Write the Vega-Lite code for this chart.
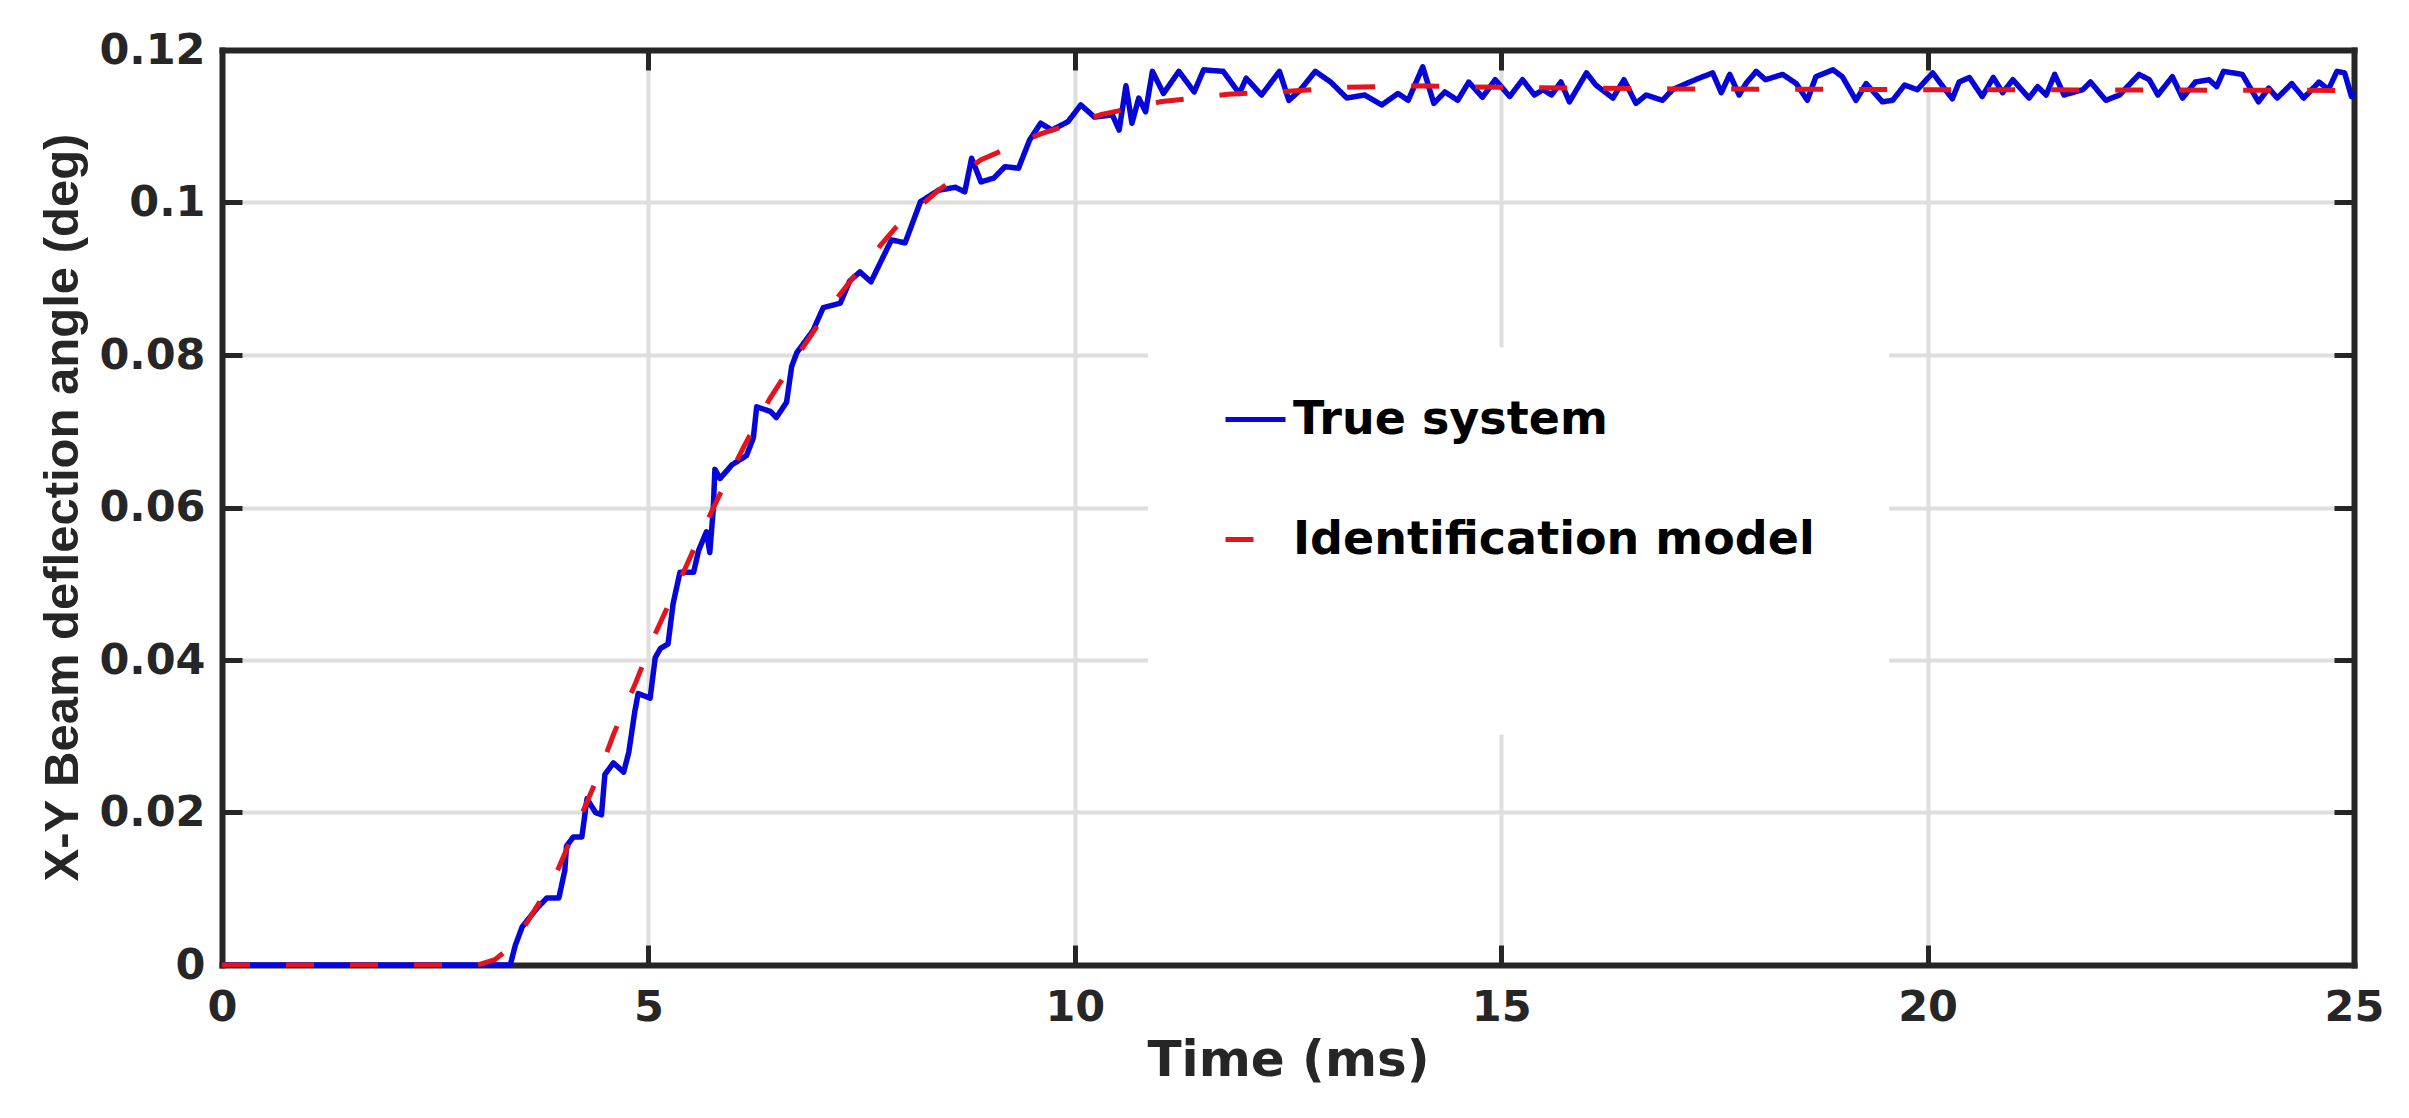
{
  "$schema": "https://vega.github.io/schema/vega-lite/v6.json",
  "width": 2132,
  "height": 915,
  "autosize": {"type": "none"},
  "padding": {"left": 222, "top": 50, "right": 55, "bottom": 153},
  "background": "white",
  "config": {
    "view": {"stroke": null},
    "axis": {
      "domainColor": "#262626",
      "domainWidth": 6,
      "domainCap": "square",
      "tickColor": "#262626",
      "tickWidth": 5,
      "tickSize": -20,
      "gridColor": "#dedede",
      "gridWidth": 4,
      "labelFont": "DejaVu Sans",
      "labelFontWeight": "bold",
      "labelFontSize": 43,
      "labelColor": "#262626",
      "labelFlush": false,
      "titleColor": "#262626",
      "titleFontWeight": "bold"
    },
    "legend": {
      "orient": "none",
      "legendX": 1001,
      "legendY": 337,
      "symbolType": "stroke",
      "symbolSize": 3600,
      "symbolStrokeWidth": 5,
      "labelFont": "DejaVu Sans",
      "labelFontWeight": "bold",
      "labelFontSize": 46,
      "labelColor": "black",
      "labelOffset": 5,
      "labelLimit": 0,
      "rowPadding": 64,
      "padding": 0
    }
  },
  "data": {
    "values": [
      {"s": "True system", "t": 0, "v": 0},
      {"s": "True system", "t": 3.38, "v": 0},
      {"s": "True system", "t": 3.44, "v": 0.0026},
      {"s": "True system", "t": 3.52, "v": 0.005},
      {"s": "True system", "t": 3.69, "v": 0.0074},
      {"s": "True system", "t": 3.81, "v": 0.0088},
      {"s": "True system", "t": 3.95, "v": 0.0088},
      {"s": "True system", "t": 4.02, "v": 0.0124},
      {"s": "True system", "t": 4.04, "v": 0.0156},
      {"s": "True system", "t": 4.12, "v": 0.0168},
      {"s": "True system", "t": 4.22, "v": 0.0168},
      {"s": "True system", "t": 4.28, "v": 0.0218},
      {"s": "True system", "t": 4.38, "v": 0.02},
      {"s": "True system", "t": 4.45, "v": 0.0197},
      {"s": "True system", "t": 4.49, "v": 0.025},
      {"s": "True system", "t": 4.59, "v": 0.0265},
      {"s": "True system", "t": 4.71, "v": 0.0253},
      {"s": "True system", "t": 4.77, "v": 0.0279},
      {"s": "True system", "t": 4.84, "v": 0.0332},
      {"s": "True system", "t": 4.88, "v": 0.0356},
      {"s": "True system", "t": 5.02, "v": 0.035},
      {"s": "True system", "t": 5.08, "v": 0.0403},
      {"s": "True system", "t": 5.14, "v": 0.0415},
      {"s": "True system", "t": 5.23, "v": 0.0421},
      {"s": "True system", "t": 5.29, "v": 0.0474},
      {"s": "True system", "t": 5.37, "v": 0.0515},
      {"s": "True system", "t": 5.53, "v": 0.0515},
      {"s": "True system", "t": 5.59, "v": 0.0544},
      {"s": "True system", "t": 5.68, "v": 0.0568},
      {"s": "True system", "t": 5.72, "v": 0.0541},
      {"s": "True system", "t": 5.76, "v": 0.0597},
      {"s": "True system", "t": 5.78, "v": 0.065},
      {"s": "True system", "t": 5.84, "v": 0.0638},
      {"s": "True system", "t": 5.98, "v": 0.0656},
      {"s": "True system", "t": 6.15, "v": 0.0668},
      {"s": "True system", "t": 6.23, "v": 0.0691},
      {"s": "True system", "t": 6.27, "v": 0.0732},
      {"s": "True system", "t": 6.43, "v": 0.0726},
      {"s": "True system", "t": 6.5, "v": 0.0718},
      {"s": "True system", "t": 6.62, "v": 0.0738},
      {"s": "True system", "t": 6.68, "v": 0.0785},
      {"s": "True system", "t": 6.74, "v": 0.0803},
      {"s": "True system", "t": 6.93, "v": 0.0832},
      {"s": "True system", "t": 7.05, "v": 0.0862},
      {"s": "True system", "t": 7.25, "v": 0.0868},
      {"s": "True system", "t": 7.36, "v": 0.0897},
      {"s": "True system", "t": 7.48, "v": 0.0909},
      {"s": "True system", "t": 7.61, "v": 0.0896},
      {"s": "True system", "t": 7.85, "v": 0.0951},
      {"s": "True system", "t": 8.01, "v": 0.0947},
      {"s": "True system", "t": 8.19, "v": 0.1001},
      {"s": "True system", "t": 8.4, "v": 0.1016},
      {"s": "True system", "t": 8.6, "v": 0.102},
      {"s": "True system", "t": 8.71, "v": 0.1014},
      {"s": "True system", "t": 8.79, "v": 0.1058},
      {"s": "True system", "t": 8.9, "v": 0.1027},
      {"s": "True system", "t": 9.05, "v": 0.1032},
      {"s": "True system", "t": 9.18, "v": 0.1047},
      {"s": "True system", "t": 9.34, "v": 0.1045},
      {"s": "True system", "t": 9.47, "v": 0.1082},
      {"s": "True system", "t": 9.6, "v": 0.1104},
      {"s": "True system", "t": 9.73, "v": 0.1095},
      {"s": "True system", "t": 9.92, "v": 0.1106},
      {"s": "True system", "t": 10.07, "v": 0.1128},
      {"s": "True system", "t": 10.23, "v": 0.1112},
      {"s": "True system", "t": 10.44, "v": 0.1115},
      {"s": "True system", "t": 10.52, "v": 0.1095},
      {"s": "True system", "t": 10.6, "v": 0.1153},
      {"s": "True system", "t": 10.67, "v": 0.1104},
      {"s": "True system", "t": 10.75, "v": 0.1137},
      {"s": "True system", "t": 10.83, "v": 0.1119},
      {"s": "True system", "t": 10.91, "v": 0.1172},
      {"s": "True system", "t": 11.04, "v": 0.1143},
      {"s": "True system", "t": 11.22, "v": 0.1172},
      {"s": "True system", "t": 11.4, "v": 0.1145},
      {"s": "True system", "t": 11.51, "v": 0.1174},
      {"s": "True system", "t": 11.74, "v": 0.1172},
      {"s": "True system", "t": 11.93, "v": 0.1143},
      {"s": "True system", "t": 12.01, "v": 0.1163},
      {"s": "True system", "t": 12.19, "v": 0.1141},
      {"s": "True system", "t": 12.4, "v": 0.1172},
      {"s": "True system", "t": 12.51, "v": 0.1134},
      {"s": "True system", "t": 12.64, "v": 0.1147},
      {"s": "True system", "t": 12.82, "v": 0.1172},
      {"s": "True system", "t": 13.0, "v": 0.1158},
      {"s": "True system", "t": 13.19, "v": 0.1137},
      {"s": "True system", "t": 13.4, "v": 0.1141},
      {"s": "True system", "t": 13.6, "v": 0.1128},
      {"s": "True system", "t": 13.79, "v": 0.1143},
      {"s": "True system", "t": 13.91, "v": 0.1134},
      {"s": "True system", "t": 14.08, "v": 0.1178},
      {"s": "True system", "t": 14.21, "v": 0.113},
      {"s": "True system", "t": 14.34, "v": 0.1145},
      {"s": "True system", "t": 14.49, "v": 0.1134},
      {"s": "True system", "t": 14.62, "v": 0.1158},
      {"s": "True system", "t": 14.78, "v": 0.1138},
      {"s": "True system", "t": 14.93, "v": 0.1161},
      {"s": "True system", "t": 15.1, "v": 0.1139},
      {"s": "True system", "t": 15.25, "v": 0.1161},
      {"s": "True system", "t": 15.39, "v": 0.1141},
      {"s": "True system", "t": 15.49, "v": 0.1148},
      {"s": "True system", "t": 15.59, "v": 0.1141},
      {"s": "True system", "t": 15.7, "v": 0.1158},
      {"s": "True system", "t": 15.8, "v": 0.1132},
      {"s": "True system", "t": 16.0, "v": 0.117},
      {"s": "True system", "t": 16.11, "v": 0.1154},
      {"s": "True system", "t": 16.31, "v": 0.1137},
      {"s": "True system", "t": 16.44, "v": 0.1161},
      {"s": "True system", "t": 16.58, "v": 0.113},
      {"s": "True system", "t": 16.7, "v": 0.1141},
      {"s": "True system", "t": 16.89, "v": 0.1134},
      {"s": "True system", "t": 17.01, "v": 0.1148},
      {"s": "True system", "t": 17.17, "v": 0.1156},
      {"s": "True system", "t": 17.32, "v": 0.1163},
      {"s": "True system", "t": 17.48, "v": 0.117},
      {"s": "True system", "t": 17.58, "v": 0.1144},
      {"s": "True system", "t": 17.68, "v": 0.1168},
      {"s": "True system", "t": 17.79, "v": 0.1141},
      {"s": "True system", "t": 17.87, "v": 0.1156},
      {"s": "True system", "t": 17.99, "v": 0.1172},
      {"s": "True system", "t": 18.1, "v": 0.1161},
      {"s": "True system", "t": 18.3, "v": 0.1168},
      {"s": "True system", "t": 18.46, "v": 0.1156},
      {"s": "True system", "t": 18.59, "v": 0.1134},
      {"s": "True system", "t": 18.69, "v": 0.1165},
      {"s": "True system", "t": 18.89, "v": 0.1174},
      {"s": "True system", "t": 19.0, "v": 0.1165},
      {"s": "True system", "t": 19.16, "v": 0.1134},
      {"s": "True system", "t": 19.28, "v": 0.1156},
      {"s": "True system", "t": 19.47, "v": 0.1132},
      {"s": "True system", "t": 19.59, "v": 0.1134},
      {"s": "True system", "t": 19.73, "v": 0.1154},
      {"s": "True system", "t": 19.88, "v": 0.1148},
      {"s": "True system", "t": 20.06, "v": 0.117},
      {"s": "True system", "t": 20.18, "v": 0.1152},
      {"s": "True system", "t": 20.29, "v": 0.1136},
      {"s": "True system", "t": 20.37, "v": 0.1158},
      {"s": "True system", "t": 20.49, "v": 0.1164},
      {"s": "True system", "t": 20.64, "v": 0.1139},
      {"s": "True system", "t": 20.77, "v": 0.1164},
      {"s": "True system", "t": 20.88, "v": 0.1144},
      {"s": "True system", "t": 21.0, "v": 0.1161},
      {"s": "True system", "t": 21.19, "v": 0.1137},
      {"s": "True system", "t": 21.29, "v": 0.1152},
      {"s": "True system", "t": 21.39, "v": 0.1141},
      {"s": "True system", "t": 21.49, "v": 0.1168},
      {"s": "True system", "t": 21.6, "v": 0.1141},
      {"s": "True system", "t": 21.82, "v": 0.1148},
      {"s": "True system", "t": 21.91, "v": 0.1158},
      {"s": "True system", "t": 22.09, "v": 0.1134},
      {"s": "True system", "t": 22.25, "v": 0.1141},
      {"s": "True system", "t": 22.48, "v": 0.1168},
      {"s": "True system", "t": 22.6, "v": 0.1161},
      {"s": "True system", "t": 22.7, "v": 0.1141},
      {"s": "True system", "t": 22.87, "v": 0.1165},
      {"s": "True system", "t": 22.99, "v": 0.1137},
      {"s": "True system", "t": 23.14, "v": 0.1158},
      {"s": "True system", "t": 23.3, "v": 0.1161},
      {"s": "True system", "t": 23.39, "v": 0.1152},
      {"s": "True system", "t": 23.47, "v": 0.1172},
      {"s": "True system", "t": 23.69, "v": 0.1168},
      {"s": "True system", "t": 23.88, "v": 0.1132},
      {"s": "True system", "t": 24.0, "v": 0.115},
      {"s": "True system", "t": 24.1, "v": 0.1137},
      {"s": "True system", "t": 24.27, "v": 0.1156},
      {"s": "True system", "t": 24.41, "v": 0.1137},
      {"s": "True system", "t": 24.59, "v": 0.1158},
      {"s": "True system", "t": 24.7, "v": 0.1148},
      {"s": "True system", "t": 24.8, "v": 0.1172},
      {"s": "True system", "t": 24.89, "v": 0.117},
      {"s": "True system", "t": 24.97, "v": 0.1139},
      {"s": "True system", "t": 25.0, "v": 0.1145},
      {"s": "Identification model", "t": 0, "v": 0},
      {"s": "Identification model", "t": 3.0, "v": 0},
      {"s": "Identification model", "t": 3.2, "v": 0.0007},
      {"s": "Identification model", "t": 3.4, "v": 0.0025},
      {"s": "Identification model", "t": 3.6, "v": 0.006},
      {"s": "Identification model", "t": 3.9, "v": 0.0115},
      {"s": "Identification model", "t": 4.15, "v": 0.018},
      {"s": "Identification model", "t": 4.4, "v": 0.0245},
      {"s": "Identification model", "t": 4.6, "v": 0.0305},
      {"s": "Identification model", "t": 4.85, "v": 0.037},
      {"s": "Identification model", "t": 5.07, "v": 0.0432},
      {"s": "Identification model", "t": 5.33, "v": 0.0495},
      {"s": "Identification model", "t": 5.58, "v": 0.0557},
      {"s": "Identification model", "t": 5.85, "v": 0.062},
      {"s": "Identification model", "t": 6.13, "v": 0.0682},
      {"s": "Identification model", "t": 6.42, "v": 0.0742},
      {"s": "Identification model", "t": 6.77, "v": 0.0803},
      {"s": "Identification model", "t": 7.11, "v": 0.086},
      {"s": "Identification model", "t": 7.46, "v": 0.091},
      {"s": "Identification model", "t": 7.9, "v": 0.0967},
      {"s": "Identification model", "t": 8.4, "v": 0.1016},
      {"s": "Identification model", "t": 8.9, "v": 0.1056},
      {"s": "Identification model", "t": 9.6, "v": 0.109},
      {"s": "Identification model", "t": 10.3, "v": 0.1115},
      {"s": "Identification model", "t": 11.0, "v": 0.1132},
      {"s": "Identification model", "t": 11.8, "v": 0.1142},
      {"s": "Identification model", "t": 12.5, "v": 0.1146},
      {"s": "Identification model", "t": 13.2, "v": 0.1151},
      {"s": "Identification model", "t": 14.0, "v": 0.1153},
      {"s": "Identification model", "t": 15.0, "v": 0.1151},
      {"s": "Identification model", "t": 17.0, "v": 0.1149},
      {"s": "Identification model", "t": 20.0, "v": 0.1148},
      {"s": "Identification model", "t": 25.0, "v": 0.1147}
    ]
  },
  "layer": [
    {
      "data": {"values": [{}]},
      "mark": {"type": "rect", "fill": "white", "strokeWidth": 0},
      "encoding": {
        "x": {
          "datum": 10.86,
          "type": "quantitative",
          "scale": {"domain": [0, 25], "nice": false, "zero": false},
          "axis": {
            "orient": "bottom",
            "values": [0, 5, 10, 15, 20, 25],
            "format": "d",
            "grid": true,
            "gridOpacity": {"condition": {"test": "datum.value <= 0.01 || datum.value >= 24.99", "value": 0}, "value": 1},
            "labelPadding": 41,
            "title": "Time (ms)",
            "titleFont": "DejaVu Sans",
            "titleFontSize": 50,
            "titleX": 1066,
            "titleY": 110,
            "titleBaseline": "alphabetic"
          }
        },
        "x2": {"datum": 19.55},
        "y": {
          "datum": 0.081,
          "type": "quantitative",
          "scale": {"domain": [0, 0.12], "nice": false},
          "axis": {
            "orient": "left",
            "values": [0, 0.02, 0.04, 0.06, 0.08, 0.1, 0.12],
            "format": ".2~f",
            "grid": true,
            "gridOpacity": {"condition": {"test": "datum.value <= 0.001 || datum.value >= 0.119", "value": 0}, "value": 1},
            "labelPadding": 37,
            "title": "X-Y Beam deflection angle (deg)",
            "titleFont": "Liberation Sans",
            "titleFontSize": 49,
            "titleAngle": -90,
            "titleX": -145,
            "titleY": 457,
            "titleBaseline": "alphabetic"
          }
        },
        "y2": {"datum": 0.0302}
      }
    },
    {
      "transform": [{"filter": "datum.s === 'True system'"}],
      "mark": {"type": "line", "strokeWidth": 5.5, "strokeJoin": "round"},
      "encoding": {
        "x": {
          "field": "t",
          "type": "quantitative",
          "scale": {"domain": [0, 25], "nice": false, "zero": false},
          "axis": {"orient": "top", "values": [0, 5, 10, 15, 20, 25], "labels": false, "grid": false, "title": null}
        },
        "y": {
          "field": "v",
          "type": "quantitative",
          "scale": {"domain": [0, 0.12], "nice": false},
          "axis": {"orient": "right", "values": [0, 0.02, 0.04, 0.06, 0.08, 0.1, 0.12], "labels": false, "grid": false, "title": null}
        },
        "color": {
          "field": "s",
          "type": "nominal",
          "scale": {"domain": ["True system", "Identification model"], "range": ["#0606d8", "#e3141e"]},
          "legend": {"title": null}
        },
        "strokeDash": {
          "field": "s",
          "type": "nominal",
          "scale": {"domain": ["True system", "Identification model"], "range": [[1, 0], [28, 36]]},
          "legend": {"title": null}
        }
      }
    },
    {
      "transform": [{"filter": "datum.s === 'Identification model'"}],
      "mark": {"type": "line", "strokeWidth": 5, "strokeJoin": "round"},
      "encoding": {
        "x": {"field": "t", "type": "quantitative", "scale": {"domain": [0, 25], "nice": false, "zero": false}, "axis": null},
        "y": {"field": "v", "type": "quantitative", "scale": {"domain": [0, 0.12], "nice": false}, "axis": null},
        "color": {"field": "s", "type": "nominal", "legend": {"title": null}},
        "strokeDash": {"field": "s", "type": "nominal", "legend": {"title": null}}
      }
    }
  ],
  "resolve": {"axis": {"x": "independent", "y": "independent"}}
}
